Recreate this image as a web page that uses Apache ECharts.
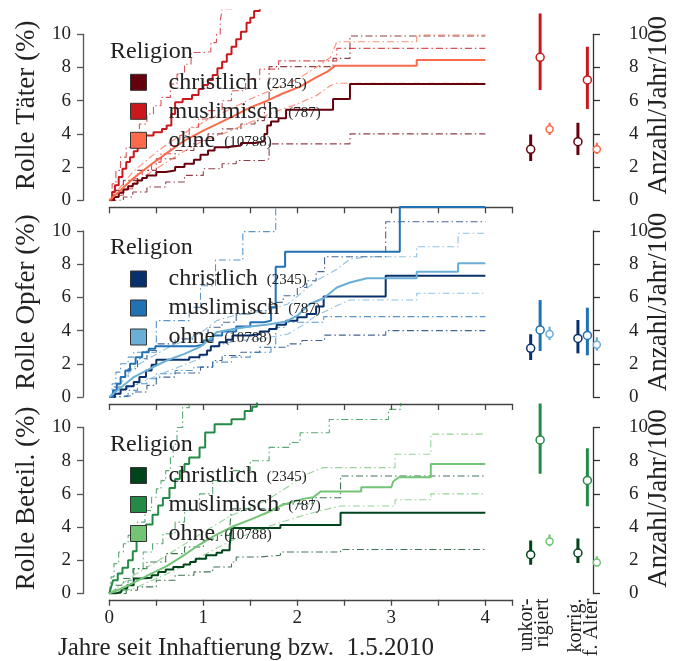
<!DOCTYPE html>
<html>
<head>
<meta charset="utf-8">
<script src="https://cdn.jsdelivr.net/npm/echarts@6/dist/echarts.min.js"></script>
<style>
  html, body { margin: 0; padding: 0; background: #fff; }
  #chart { width: 673px; height: 661px; }
</style>
</head>
<body>
<div id="chart"></div>
<script>
// ---- categories and labels ----
const groups = ['christlich', 'muslimisch', 'ohne'];
const groupN = ['2345', '787', '10788'];
const roleLabels = ['Rolle Täter (%)', 'Rolle Opfer (%)', 'Rolle Beteil. (%)'];
const rateLabel = 'Anzahl/Jahr/100';
const xLabel = 'Jahre seit Inhaftierung bzw.  1.5.2010';
const rateCategories = ['unkor-\nrigiert', 'korrig.\nf. Alter'];
const percentTicks = [0, 2, 4, 6, 8, 10];
const yearTicks = [0, 1, 2, 3, 4];

// ---- cumulative incidence curves [Jahre, %] ----
// Rolle Täter
const taeterChristlich = [[0,0],[0.05,0.2],[0.1,0.45],[0.15,0.65],[0.2,0.85],[0.25,1.0],[0.3,1.2],[0.35,1.35],[0.4,1.5],[0.5,1.7],[0.6,1.8],[0.7,2.0],[0.8,2.2],[0.9,2.45],[0.97,2.75],[1.05,3.0],[1.12,3.2],[1.25,3.3],[1.4,3.45],[1.55,3.55],[1.65,4.0],[1.68,4.5],[1.72,4.75],[1.8,4.95],[1.88,5.45],[2.38,6.1],[2.56,7.0],[4,7.0]];
const taeterChristlichHi = [[0,0],[0.05,0.6],[0.15,1.2],[0.3,1.8],[0.5,2.5],[0.7,3.0],[0.9,3.6],[1.05,4.0],[1.2,4.3],[1.4,4.6],[1.55,4.8],[1.65,6.0],[1.7,8.05],[2.38,8.55],[2.56,9.9],[4,9.9]];
const taeterChristlichLo = [[0,0],[0.15,0.2],[0.25,0.5],[0.4,0.8],[0.6,1.1],[0.8,1.5],[1.0,1.9],[1.2,2.2],[1.35,2.4],[1.65,2.5],[1.7,3.4],[2.56,4.0],[4,4.0]];
const taeterMuslimisch = [[0,0],[0.03,0.5],[0.06,0.9],[0.1,1.4],[0.14,1.9],[0.18,2.3],[0.22,2.6],[0.26,2.95],[0.3,3.05],[0.32,3.9],[0.47,4.1],[0.56,4.3],[0.61,4.5],[0.66,5.2],[0.7,5.9],[0.78,6.1],[0.88,6.35],[0.95,6.7],[1.0,6.95],[1.05,7.25],[1.1,7.55],[1.15,7.95],[1.2,8.35],[1.25,8.8],[1.3,9.25],[1.35,9.7],[1.4,10.15],[1.46,10.7],[1.5,11.0],[1.54,11.4],[1.6,11.9],[1.8,12.5],[4,14]];
const taeterMuslimischHi = [[0,0],[0.03,1.0],[0.07,1.8],[0.12,2.6],[0.18,3.2],[0.25,3.9],[0.32,4.6],[0.4,5.2],[0.47,5.7],[0.55,6.2],[0.65,7.0],[0.72,7.6],[0.8,8.2],[0.87,8.9],[1.0,8.95],[1.08,9.5],[1.14,10.0],[1.18,10.8],[1.2,11.5],[1.3,12.5],[4,14]];
const taeterMuslimischLo = [[0,0],[0.08,0.3],[0.15,0.7],[0.25,1.3],[0.35,1.8],[0.45,2.3],[0.55,2.8],[0.65,3.3],[0.75,3.9],[0.85,4.4],[0.95,4.9],[1.05,5.4],[1.2,6.0],[1.3,6.6],[1.45,7.3],[1.6,7.9],[1.8,8.4],[2.42,9.15],[4,9.15]];
const taeterOhne = [[0,0],[0.1,0.5],[0.25,1.3],[0.43,2.1],[0.6,2.8],[0.8,3.6],[1.0,4.2],[1.15,4.6],[1.33,5.1],[1.5,5.6],[1.68,6.0],[1.85,6.45],[2.03,6.85],[2.2,7.4],[2.32,7.75],[2.4,8.1],[3.27,8.1],[3.27,8.45],[4,8.45]];
const taeterOhneHi = [[0,0],[0.25,1.7],[0.5,2.9],[0.75,3.9],[1.0,4.7],[1.25,5.4],[1.5,6.1],[1.75,6.7],[2.0,7.3],[2.2,8.0],[2.35,8.6],[2.42,9.55],[3.27,9.55],[3.27,9.96],[4,9.96]];
const taeterOhneLo = [[0,0],[0.25,1.0],[0.5,1.9],[0.75,2.8],[1.0,3.6],[1.25,4.1],[1.5,4.7],[1.75,5.3],[2.0,5.8],[2.2,6.3],[2.35,6.9],[2.42,7.05],[4,7.05]];

// Rolle Opfer
const opferChristlich = [[0,0],[0.06,0.2],[0.12,0.45],[0.18,0.65],[0.26,0.9],[0.32,1.2],[0.39,1.6],[0.45,1.95],[0.5,2.25],[0.85,2.4],[0.96,2.55],[1.04,2.8],[1.08,3.05],[1.17,3.3],[1.25,3.45],[1.31,3.7],[1.5,3.8],[1.6,3.95],[1.7,4.1],[1.78,4.35],[1.88,4.6],[2.0,4.8],[2.1,5.0],[2.2,5.45],[2.28,6.05],[2.94,7.3],[4,7.3]];
const opferChristlichHi = [[0,0],[0.05,0.6],[0.12,1.2],[0.2,1.7],[0.3,2.3],[0.4,2.8],[0.5,3.2],[0.7,3.5],[0.9,3.8],[1.05,4.2],[1.2,4.5],[1.35,5.0],[1.5,5.2],[1.7,5.7],[1.85,6.1],[2.0,6.6],[2.1,7.0],[2.2,7.55],[2.29,8.45],[2.94,10.56],[4,10.56]];
const opferChristlichLo = [[0,0],[0.15,0.1],[0.25,0.3],[0.4,0.7],[0.5,1.2],[0.7,1.45],[0.97,1.8],[1.1,2.2],[1.2,2.5],[1.4,2.7],[1.6,3.0],[1.9,3.2],[2.05,3.4],[2.29,3.73],[2.94,4.0],[4,4.0]];
const opferMuslimisch = [[0,0],[0.04,0.4],[0.08,0.8],[0.12,1.2],[0.17,1.6],[0.22,2.0],[0.28,2.4],[0.35,2.7],[0.42,2.9],[0.49,3.05],[0.9,3.15],[1.0,3.4],[1.1,3.7],[1.2,3.95],[1.35,4.25],[1.5,4.5],[1.65,4.6],[1.72,5.4],[1.77,7.85],[1.87,8.75],[3.09,11.45],[4,11.45]];
const opferMuslimischHi = [[0,0],[0.03,0.8],[0.07,1.5],[0.12,2.0],[0.2,2.4],[0.26,2.7],[0.5,4.6],[0.85,5.4],[0.97,6.7],[1.13,8.25],[1.42,9.96],[1.77,11.6],[4,13]];
const opferMuslimischLo = [[0,0],[0.1,0.1],[0.2,0.4],[0.3,0.8],[0.4,1.1],[0.5,1.4],[0.7,1.6],[0.9,1.8],[1.1,2.1],[1.3,2.4],[1.5,2.7],[1.72,3.0],[1.77,4.2],[1.87,4.5],[2.28,4.84],[4,4.84]];
const opferOhne = [[0,0],[0.13,0.6],[0.26,1.2],[0.43,1.7],[0.61,2.2],[0.8,2.6],[0.96,3.0],[1.05,3.4],[1.14,3.9],[1.32,4.1],[1.5,4.25],[1.67,4.35],[1.88,4.55],[2.0,4.9],[2.13,5.6],[2.28,5.95],[2.42,6.6],[2.56,6.9],[2.74,7.15],[3.27,7.15],[3.27,7.55],[3.71,7.55],[3.71,8.05],[4,8.05]];
const opferOhneHi = [[0,0],[0.26,1.8],[0.6,2.9],[0.96,3.8],[1.14,4.6],[1.32,4.9],[1.67,5.2],[1.9,5.6],[2.05,6.3],[2.2,7.0],[2.42,7.7],[2.56,8.3],[2.74,8.45],[3.27,8.45],[3.27,9.05],[3.71,9.05],[3.71,9.86],[4,9.86]];
const opferOhneLo = [[0,0],[0.26,0.7],[0.6,1.5],[0.96,2.3],[1.14,3.1],[1.32,3.35],[1.67,3.55],[1.9,3.8],[2.05,4.3],[2.2,4.9],[2.42,5.5],[2.56,5.84],[3.27,5.84],[3.27,6.25],[4,6.25]];

// Rolle Beteiligung
const beteilChristlich = [[0,0],[0.07,0.1],[0.13,0.3],[0.19,0.5],[0.26,0.9],[0.33,0.95],[0.45,1.1],[0.52,1.3],[0.6,1.45],[0.68,1.6],[0.79,1.75],[0.86,1.9],[0.92,2.1],[1.03,2.3],[1.14,2.45],[1.2,2.6],[1.28,2.85],[1.3,3.94],[1.82,4.13],[2.46,4.86],[4,4.86]];
const beteilChristlichHi = [[0,0],[0.07,0.5],[0.15,0.9],[0.26,1.5],[0.4,1.9],[0.6,2.4],[0.8,2.8],[1.0,3.2],[1.15,3.5],[1.28,3.9],[1.3,5.1],[1.82,5.4],[2.16,5.77],[2.46,7.08],[4,7.08]];
const beteilChristlichLo = [[0,0],[0.18,0.2],[0.3,0.4],[0.5,0.8],[0.7,1.1],[0.9,1.3],[1.1,1.6],[1.3,1.9],[1.35,2.2],[1.6,2.3],[1.82,2.5],[2.46,2.65],[4,2.65]];
const beteilMuslimisch = [[0,0],[0.02,0.4],[0.04,0.8],[0.09,1.2],[0.14,1.55],[0.2,2.0],[0.25,2.55],[0.29,3.35],[0.34,3.8],[0.39,4.15],[0.46,4.75],[0.52,5.3],[0.57,5.75],[0.64,6.35],[0.7,6.9],[0.75,7.4],[0.8,7.8],[0.85,8.2],[0.96,8.8],[1.02,9.7],[1.12,10.2],[1.3,10.5],[1.44,11.0],[1.52,11.25],[1.57,12],[4,14]];
const beteilMuslimischHi = [[0,0],[0.02,1.0],[0.05,1.8],[0.1,2.5],[0.15,3.0],[0.2,3.5],[0.3,4.3],[0.38,5.0],[0.45,5.8],[0.5,6.3],[0.55,6.8],[0.6,7.4],[0.65,8.2],[0.68,9.0],[0.72,10.0],[0.78,11.2],[0.85,12.5],[4,14]];
const beteilMuslimischLo = [[0,0],[0.1,0.2],[0.2,0.8],[0.25,1.5],[0.36,2.5],[0.46,3.0],[0.57,3.6],[0.7,4.3],[0.8,5.0],[0.96,6.0],[1.1,6.8],[1.31,7.4],[1.5,8.0],[1.7,8.8],[1.92,9.1],[2.03,9.68],[2.34,10.48],[2.97,11.09],[3.1,12],[4,12]];
const beteilOhne = [[0,0],[0.13,0.3],[0.26,0.65],[0.43,1.15],[0.61,1.65],[0.78,2.25],[0.96,2.95],[1.14,3.55],[1.32,4.05],[1.5,4.45],[1.67,4.85],[1.85,5.35],[2.06,5.7],[2.17,5.8],[2.25,6.15],[2.68,6.15],[2.68,6.4],[3.0,6.4],[3.02,6.75],[3.08,7.0],[3.42,7.0],[3.42,7.8],[4,7.8]];
const beteilOhneHi = [[0,0],[0.26,1.1],[0.5,1.9],[0.78,2.9],[1.0,3.7],[1.3,4.7],[1.67,5.6],[1.92,6.5],[2.1,7.18],[2.27,7.58],[3.04,7.58],[3.04,8.39],[3.42,8.39],[3.42,9.6],[4,9.6]];
const beteilOhneLo = [[0,0],[0.26,0.3],[0.5,0.9],[0.78,1.6],[1.0,2.3],[1.3,3.2],[1.67,4.0],[2.0,4.6],[2.25,5.0],[2.46,5.27],[3.04,5.27],[3.04,5.65],[3.42,5.65],[3.42,6.0],[4,6.0]];

// ---- rates per 100 person-years: christlich, muslimisch, ohne (unkorrigiert), then korrigiert ----
const taeterRate   = [3.07, 8.61, 4.28, 3.53, 7.25, 3.07];
const taeterRateLo = [2.37, 6.64, 3.93, 2.73, 5.50, 2.79];
const taeterRateHi = [3.97, 11.26, 4.67, 4.67, 9.25, 3.47];
const opferRate    = [2.93, 4.04, 3.80, 3.53, 3.71, 3.15];
const opferRateLo  = [2.23, 2.77, 3.43, 2.63, 2.51, 2.79];
const opferRateHi  = [3.78, 5.84, 4.24, 4.64, 5.38, 3.60];
const beteilRate   = [2.34, 9.25, 3.14, 2.44, 6.81, 1.87];
const beteilRateLo = [1.73, 7.22, 2.84, 1.84, 5.26, 1.63];
const beteilRateHi = [3.20, 11.70, 3.55, 3.31, 8.75, 2.24];

// ---- panel definitions ----
const panels = [
  { key: 'T', label: roleLabels[0], colors: ['#67000d', '#cb181d', '#fb6a4a'],
    curves: [[taeterChristlich, taeterChristlichLo, taeterChristlichHi],
             [taeterMuslimisch, taeterMuslimischLo, taeterMuslimischHi],
             [taeterOhne, taeterOhneLo, taeterOhneHi]],
    rate: taeterRate, lo: taeterRateLo, hi: taeterRateHi },
  { key: 'O', label: roleLabels[1], colors: ['#08306b', '#2171b5', '#6baed6'],
    curves: [[opferChristlich, opferChristlichLo, opferChristlichHi],
             [opferMuslimisch, opferMuslimischLo, opferMuslimischHi],
             [opferOhne, opferOhneLo, opferOhneHi]],
    rate: opferRate, lo: opferRateLo, hi: opferRateHi },
  { key: 'B', label: roleLabels[2], colors: ['#00441b', '#238b45', '#74c476'],
    curves: [[beteilChristlich, beteilChristlichLo, beteilChristlichHi],
             [beteilMuslimisch, beteilMuslimischLo, beteilMuslimischHi],
             [beteilOhne, beteilOhneLo, beteilOhneHi]],
    rate: beteilRate, lo: beteilRateLo, hi: beteilRateHi }
];

// ---- layout ----
const FONT = '"Liberation Serif", "Times New Roman", serif';
const INK = '#222';
const SPINE = '#555';
const BASE = [200.3, 397, 593.5];   // pixel row of 0 % in each panel
const UNIT = 16.6;                  // pixels per percentage point
const Y_TOP = 11.45;                // upper limit of the plot areas
const X_LEFT = 109.3, X_WIDTH = 403.3, X_MAX = 4.29;
const R_LEFT = 516.5, R_WIDTH = 98; // rate panel: -0.5 .. 1.5
const groupOffset = [-0.2, 0, 0.2];

const grid = [], xAxis = [], yAxis = [], series = [], legend = [], title = [];
function addGrid(g, xa, ya) {
  grid.push(g);
  const i = grid.length - 1;
  xAxis.push(Object.assign({ gridIndex: i }, xa));
  yAxis.push(Object.assign({ gridIndex: i }, ya));
  return i;
}
const hiddenValue = (min, max) => ({ type: 'value', min, max, show: false });
const noAxisParts = {
  axisLine: { show: false }, axisTick: { show: false },
  axisLabel: { show: false }, splitLine: { show: false }
};
const spineStyle = { color: SPINE, width: 1.3 };
const tickFont = { fontFamily: FONT, fontSize: 19, color: INK };
const nameFont = { fontFamily: FONT, fontSize: 27, color: INK };

const displayName = {};

panels.forEach((pn, p) => {
  const base = BASE[p];
  const top = base - Y_TOP * UNIT;

  // plot area for the curves
  const gi = addGrid({ left: X_LEFT, top, width: X_WIDTH, height: Y_TOP * UNIT },
    hiddenValue(0, X_MAX),
    Object.assign({ type: 'value', min: 0, max: Y_TOP, name: pn.label, nameLocation: 'middle',
      nameGap: 69, nameRotate: 90, nameTextStyle: nameFont }, noAxisParts));

  // left percent axis (spine trimmed to 0..10)
  addGrid({ left: 83, top: base - 10 * UNIT, width: 20, height: 10 * UNIT },
    hiddenValue(0, 1),
    { type: 'value', min: percentTicks[0], max: percentTicks[percentTicks.length - 1], interval: 2,
      position: 'left', axisLine: { show: true, lineStyle: spineStyle },
      axisTick: { show: true, length: 6, lineStyle: spineStyle },
      axisLabel: Object.assign({ margin: 12 }, tickFont), splitLine: { show: false } });

  // time axis, offset below the plot area
  addGrid({ left: X_LEFT, top: base + 6, width: X_WIDTH, height: 1 },
    { type: 'value', min: 0, max: X_MAX, interval: 0.5, position: 'bottom',
      axisLine: { show: true, onZero: false, lineStyle: { color: '#444', width: 1.3 } },
      axisTick: { show: true, length: 6, lineStyle: { color: '#444', width: 1.3 } },
      axisLabel: Object.assign({ show: p === 2, margin: 9,
        formatter: v => (yearTicks.indexOf(v) >= 0 ? String(v) : '') }, tickFont),
      splitLine: { show: false },
      name: p === 2 ? xLabel : '', nameLocation: 'middle', nameGap: 36,
      nameTextStyle: Object.assign({ padding: [0, 130, 0, 0] }, nameFont, { fontSize: 25 }) },
    hiddenValue(0, 1));

  // rate panel plot area
  const rg = addGrid({ left: R_LEFT, top, width: R_WIDTH, height: Y_TOP * UNIT },
    hiddenValue(-0.5, 1.5),
    Object.assign({ type: 'value', min: 0, max: Y_TOP, position: 'right', name: rateLabel,
      nameLocation: 'middle', nameGap: 34, nameRotate: 90, nameTextStyle: nameFont }, noAxisParts));

  // right rate axis (spine trimmed to 0..10)
  addGrid({ left: 593, top: base - 10 * UNIT, width: 20, height: 10 * UNIT },
    hiddenValue(0, 1),
    { type: 'value', min: 0, max: 10, interval: 2, position: 'right',
      axisLine: { show: true, lineStyle: { color: '#333', width: 1.3 } },
      axisTick: { show: true, length: 7, lineStyle: { color: '#333', width: 1.3 } },
      axisLabel: Object.assign({ margin: 16 }, tickFont), splitLine: { show: false } });

  if (p === 2) {
    addGrid({ left: R_LEFT - 6, top: base, width: R_WIDTH, height: 3 },
      { type: 'category', data: rateCategories, position: 'bottom',
        axisLine: { show: false }, axisTick: { show: false },
        axisLabel: { rotate: 90, margin: 2, fontFamily: FONT, fontSize: 20, color: INK, lineHeight: 16 } },
      hiddenValue(0, 1));
  }

  const legendNames = [];
  groups.forEach((g, k) => {
    const color = pn.colors[k];
    const step = k === 2 ? false : 'end';
    const [est, lo, hi] = pn.curves[k];
    [lo, hi].forEach(band => series.push({
      type: 'line', xAxisIndex: gi, yAxisIndex: gi, data: band, step,
      symbol: 'none', silent: true, z: 2, animation: false,
      lineStyle: { color, width: 1.1, type: [7, 3, 1.5, 3], opacity: 0.75 }
    }));
    const name = g + '·' + pn.key;
    displayName[name] = k;
    legendNames.push(name);
    series.push({
      name, type: 'line', xAxisIndex: gi, yAxisIndex: gi, data: est, step,
      symbol: 'none', z: 3, animation: false,
      lineStyle: { color, width: 2 }, itemStyle: { color }
    });

    // rate estimates with confidence intervals
    const xs = [0 + groupOffset[k], 1 + groupOffset[k]];
    series.push({
      type: 'custom', xAxisIndex: rg, yAxisIndex: rg, clip: true, z: 3, silent: true,
      encode: { x: 0, y: [1, 2] },
      data: [[xs[0], pn.lo[k], pn.hi[k]], [xs[1], pn.lo[3 + k], pn.hi[3 + k]]],
      renderItem: (params, api) => {
        const a = api.coord([api.value(0), api.value(1)]);
        const b = api.coord([api.value(0), api.value(2)]);
        return { type: 'line', shape: { x1: a[0], y1: a[1], x2: b[0], y2: b[1] },
                 style: { stroke: color, lineWidth: k === 2 ? 2.2 : 3 } };
      }
    });
    series.push({
      type: 'scatter', xAxisIndex: rg, yAxisIndex: rg, z: 4, silent: true,
      symbol: 'circle', symbolSize: k === 2 ? 7 : 8,
      itemStyle: { color: '#fff', borderColor: color, borderWidth: 1.5, opacity: 1 },
      data: [[xs[0], pn.rate[k]], [xs[1], pn.rate[3 + k]]]
    });
  });

  title.push({ text: 'Religion', left: 110, top: base - 161, padding: 0,
    textStyle: { fontFamily: FONT, fontSize: 24, fontWeight: 'normal', color: INK } });

  legend.push({
    data: legendNames, orient: 'vertical', left: 130, top: base - 130, padding: 0,
    itemWidth: 16, itemHeight: 16, itemGap: 5, icon: 'rect', selectedMode: false,
    itemStyle: { borderColor: '#333', borderWidth: 1 },
    formatter: name => {
      const k = displayName[name];
      return '{s| }{a|' + groups[k] + '}{b|(' + groupN[k] + ')}';
    },
    textStyle: {
      rich: {
        s: { width: 17 },
        a: { fontFamily: FONT, fontSize: 24, color: INK, lineHeight: 18 },
        b: { fontFamily: FONT, fontSize: 15, color: INK, lineHeight: 8,
             verticalAlign: 'bottom', padding: [0, 0, 0, 9] }
      }
    }
  });
});

const chart = echarts.init(document.getElementById('chart'), null, { renderer: 'canvas' });
chart.setOption({
  backgroundColor: '#fff',
  animation: false,
  title, legend, grid, xAxis, yAxis, series
});
</script>
</body>
</html>
